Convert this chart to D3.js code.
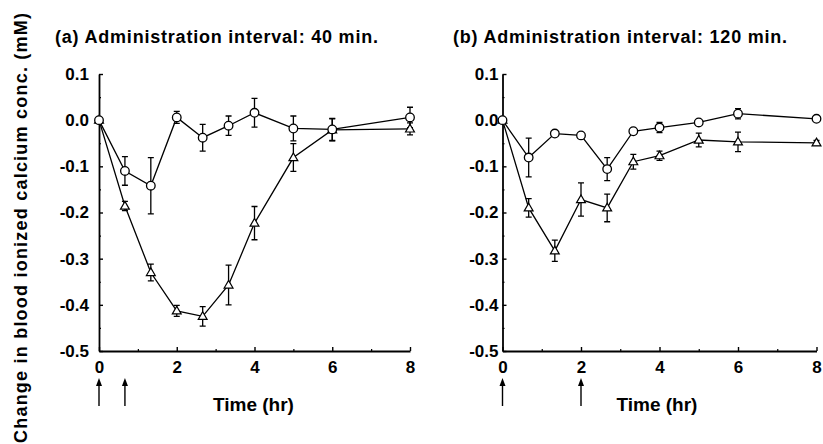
<!DOCTYPE html>
<html>
<head>
<meta charset="utf-8">
<script src="https://cdn.jsdelivr.net/npm/d3@7"></script>
<style>
  body { margin: 0; background: #fff; }
  svg { display: block; }
  text { font-family: "Liberation Sans", Arial, Helvetica, sans-serif; font-weight: bold; fill: #000; }
</style>
</head>
<body>
<div id="chart"></div>
<script>
// sampling times (hr), same for both panels
var times = [0, 0.667, 1.333, 2, 2.667, 3.333, 4, 5, 6, 8];

// (a) 40 min interval
var aCircleMean = [0, -0.110, -0.142, 0.006, -0.038, -0.012, 0.016, -0.018, -0.020, 0.006];
var aCircleSem  = [0, 0.031, 0.061, 0.013, 0.029, 0.021, 0.031, 0.027, 0.024, 0.022];
var aTriMean    = [0, -0.186, -0.330, -0.413, -0.425, -0.357, -0.223, -0.081, -0.021, -0.019];
var aTriSem     = [0, 0.010, 0.018, 0.012, 0.021, 0.043, 0.036, 0.030, 0.024, 0.013];
var aDoses      = [0, 0.667];

// (b) 120 min interval
var bCircleMean = [0, -0.081, -0.029, -0.033, -0.106, -0.024, -0.016, -0.005, 0.014, 0.003];
var bCircleSem  = [0, 0.042, 0.004, 0.004, 0.025, 0.006, 0.011, 0.004, 0.011, 0.005];
var bTriMean    = [0, -0.190, -0.283, -0.172, -0.190, -0.090, -0.077, -0.043, -0.047, -0.049];
var bTriSem     = [0, 0.020, 0.023, 0.036, 0.030, 0.016, 0.010, 0.015, 0.021, 0.005];
var bDoses      = [0, 2];

var xTicks = [0, 2, 4, 6, 8];
var yTicks = [0.1, 0.0, -0.1, -0.2, -0.3, -0.4, -0.5];

var W = 823, H = 444;
var svg = d3.select('#chart').append('svg')
  .attr('width', W).attr('height', H);

// y axis title
svg.append('text')
  .attr('transform', 'translate(27,443) rotate(-90)')
  .attr('font-size', '18px')
  .attr('textLength', 430)
  .attr('lengthAdjust', 'spacing')
  .text('Change in blood ionized calcium conc. (mM)');

function series(mean, sem) {
  return times.map(function(t, i) { return {t: t, v: mean[i], e: sem[i]}; });
}

function drawPanel(opt) {
  var x = d3.scaleLinear().domain([0, 8]).range([opt.left, opt.right]);
  var y = d3.scaleLinear().domain([-0.5, 0.1]).range([351, 74]);
  var g = svg.append('g');

  // title
  g.append('text')
    .attr('x', opt.titleX).attr('y', 43)
    .attr('font-size', '18px')
    .attr('textLength', opt.titleLen)
    .attr('lengthAdjust', 'spacing')
    .text(opt.title);

  // minor ticks
  g.append('g')
    .attr('transform', 'translate(' + opt.left + ',0)')
    .call(d3.axisLeft(y).tickValues(d3.range(-0.45, 0.1, 0.1)).tickSize(-2).tickFormat(''))
    .call(function(s) { s.select('.domain').remove(); s.selectAll('line').attr('stroke-width', 1.2); });
  g.append('g')
    .attr('transform', 'translate(0,351)')
    .call(d3.axisBottom(x).tickValues([1, 3, 5, 7]).tickSize(-2).tickFormat(''))
    .call(function(s) { s.select('.domain').remove(); s.selectAll('line').attr('stroke-width', 1.2); });

  // major axes
  var ya = g.append('g')
    .attr('transform', 'translate(' + opt.left + ',0)')
    .call(d3.axisLeft(y).tickValues(yTicks).tickSizeInner(-4).tickSizeOuter(0)
      .tickPadding(opt.yPad).tickFormat(d3.format('.1f')));
  var xa = g.append('g')
    .attr('transform', 'translate(0,351)')
    .call(d3.axisBottom(x).tickValues(xTicks).tickSizeInner(-4).tickSizeOuter(0)
      .tickPadding(10).tickFormat(d3.format('d')));
  [ya, xa].forEach(function(a) {
    a.attr('font-family', null).attr('font-size', null);
    a.select('.domain').attr('stroke-width', 1.8);
    a.selectAll('line').attr('stroke-width', 1.4);
    a.selectAll('text').attr('font-size', '17px');
  });
  ya.selectAll('text').text(function(d) { return d3.format('.1f')(d).replace('−', '-'); });

  // x axis title
  g.append('text')
    .attr('x', opt.left + 114).attr('y', 411)
    .attr('font-size', '19px')
    .text('Time (hr)');

  // dosing arrows
  opt.doses.forEach(function(d) {
    var ax = x(d);
    g.append('line')
      .attr('x1', ax).attr('x2', ax).attr('y1', 406).attr('y2', 382)
      .attr('stroke', '#000').attr('stroke-width', 1.4);
    g.append('path')
      .attr('d', 'M' + ax + ',378 L' + (ax - 3) + ',386 L' + (ax + 3) + ',386 Z')
      .attr('fill', '#000');
  });

  var line = d3.line().x(function(d) { return x(d.t); }).y(function(d) { return y(d.v); });

  [opt.tri, opt.circ].forEach(function(data) {
    g.append('path').datum(data)
      .attr('d', line).attr('fill', 'none')
      .attr('stroke', '#000').attr('stroke-width', 1.3);
    data.forEach(function(d) {
      if (d.e <= 0) return;
      var cx = x(d.t);
      g.append('path')
        .attr('d', 'M' + cx + ',' + y(d.v + d.e) + 'V' + y(d.v - d.e) +
          'M' + (cx - 3) + ',' + y(d.v + d.e) + 'H' + (cx + 3) +
          'M' + (cx - 3) + ',' + y(d.v - d.e) + 'H' + (cx + 3))
        .attr('fill', 'none').attr('stroke', '#000').attr('stroke-width', 1.3);
    });
  });

  var tri = d3.symbol().type(d3.symbolTriangle).size(34);
  g.selectAll('.tri').data(opt.tri).enter().append('path')
    .attr('transform', function(d) { return 'translate(' + x(d.t) + ',' + (y(d.v) + 0.5) + ')'; })
    .attr('d', tri)
    .attr('fill', '#fff').attr('stroke', '#000').attr('stroke-width', 1.2);
  g.selectAll('.circ').data(opt.circ).enter().append('circle')
    .attr('cx', function(d) { return x(d.t); })
    .attr('cy', function(d) { return y(d.v); })
    .attr('r', 4.3)
    .attr('fill', '#fff').attr('stroke', '#000').attr('stroke-width', 1.3);
}

drawPanel({
  left: 99, right: 410, yPad: 10,
  titleX: 55, titleLen: 323,
  title: '(a) Administration interval: 40 min.',
  circ: series(aCircleMean, aCircleSem),
  tri: series(aTriMean, aTriSem),
  doses: aDoses
});

drawPanel({
  left: 502.5, right: 816.5, yPad: 4,
  titleX: 453, titleLen: 334,
  title: '(b) Administration interval: 120 min.',
  circ: series(bCircleMean, bCircleSem),
  tri: series(bTriMean, bTriSem),
  doses: bDoses
});
</script>
</body>
</html>
